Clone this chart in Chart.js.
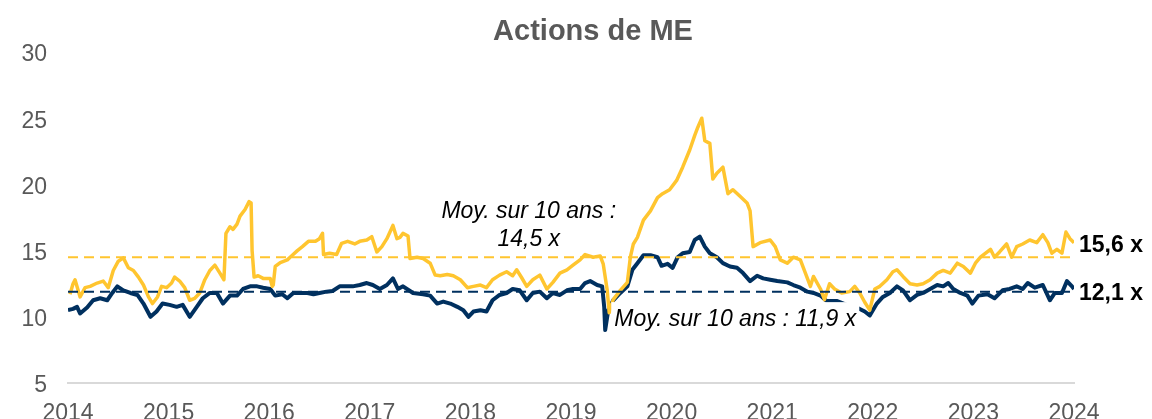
<!DOCTYPE html>
<html>
<head>
<meta charset="utf-8">
<script src="https://cdn.jsdelivr.net/npm/chart.js@4.4.1/dist/chart.umd.min.js"></script>
<style>
  html, body { margin: 0; padding: 0; background: #fff; }
  canvas { display: block; }
</style>
</head>
<body>
<canvas id="c" width="1152" height="419"></canvas>
<script>
// ---- Data (decimal years, P/E multiples) ----
const goldX = [2014.02,2014.05,2014.07,2014.12,2014.17,2014.22,2014.29,2014.35,2014.40,2014.45,2014.50,2014.55,2014.60,2014.65,2014.70,2014.75,2014.80,2014.84,2014.89,2014.93,2014.98,
2015.03,2015.06,2015.11,2015.16,2015.21,2015.26,2015.31,2015.36,2015.41,2015.46,2015.51,2015.55,2015.57,2015.61,2015.64,2015.68,2015.71,2015.76,2015.80,2015.82,2015.83,2015.85,2015.89,2015.94,
2016.01,2016.03,2016.04,2016.06,2016.11,2016.18,2016.23,2016.28,2016.33,2016.39,2016.46,2016.50,2016.53,2016.54,2016.60,2016.67,2016.72,2016.78,2016.85,2016.90,2016.97,
2017.02,2017.07,2017.12,2017.17,2017.23,2017.27,2017.30,2017.33,2017.38,2017.40,2017.47,2017.53,2017.60,2017.65,2017.70,2017.77,2017.83,2017.90,2017.97,
2018.03,2018.10,2018.16,2018.22,2018.29,2018.36,2018.42,2018.46,2018.51,2018.56,2018.62,2018.69,2018.76,2018.82,2018.89,2018.96,
2019.02,2019.09,2019.14,2019.22,2019.29,2019.32,2019.36,2019.38,2019.42,2019.49,2019.56,2019.59,2019.62,2019.66,2019.72,2019.79,2019.86,2019.91,2019.98,
2020.05,2020.11,2020.18,2020.23,2020.26,2020.30,2020.33,2020.38,2020.41,2020.45,2020.51,2020.56,2020.61,2020.68,2020.75,2020.78,2020.81,2020.88,2020.98,
2021.03,2021.08,2021.15,2021.21,2021.28,2021.33,2021.38,2021.41,2021.48,2021.52,2021.57,2021.62,2021.69,2021.77,2021.82,2021.87,2021.92,2021.97,
2022.02,2022.07,2022.14,2022.20,2022.24,2022.30,2022.37,2022.44,2022.50,2022.57,2022.64,2022.70,2022.77,2022.84,2022.90,2022.97,
2023.02,2023.07,2023.17,2023.21,2023.26,2023.33,2023.38,2023.43,2023.49,2023.56,2023.63,2023.69,2023.74,2023.78,2023.83,2023.88,2023.92,2023.96,2024.00];
const goldY = [11.7,12.5,12.8,11.5,12.2,12.3,12.55,12.7,12.2,13.5,14.2,14.45,13.7,13.5,13.0,12.4,11.5,11.0,11.5,12.3,12.2,
12.55,13.0,12.7,12.2,11.25,11.4,11.8,12.8,13.5,13.9,13.3,12.8,16.3,16.8,16.6,17.0,17.6,18.1,18.7,18.6,15.0,13.0,13.1,12.9,
12.9,12.3,12.4,13.8,14.1,14.3,14.65,15.0,15.3,15.7,15.7,15.9,16.3,14.7,14.8,14.7,15.55,15.7,15.5,15.7,15.8,
16.05,14.9,15.3,15.9,16.9,15.9,16.0,16.3,16.1,14.4,14.5,14.4,14.05,13.15,13.1,13.2,13.1,12.8,12.2,
12.3,12.4,12.2,12.8,13.15,13.4,13.1,13.55,12.95,12.3,12.8,13.15,12.1,12.6,13.3,13.55,
13.9,14.3,14.7,14.5,14.6,14.0,12.0,10.3,11.3,12.0,12.6,14.5,15.5,16.0,17.3,18.0,19.0,19.3,19.6,
20.3,21.3,22.6,23.7,24.3,25.0,23.3,23.1,20.4,20.85,21.3,19.3,19.6,19.1,18.6,18.0,15.3,15.6,15.8,
15.3,14.3,14.05,14.5,14.3,13.3,12.3,13.05,12.1,11.3,12.5,12.1,11.8,11.9,12.3,11.8,11.1,10.5,
12.1,12.3,12.8,13.4,13.55,13.05,12.5,12.4,12.5,12.8,13.3,13.5,13.3,14.05,13.8,13.3,
14.05,14.5,15.1,14.5,14.9,15.5,14.5,15.3,15.5,15.8,15.6,16.2,15.6,14.8,15.1,14.8,16.4,15.9,15.6];

const navyX = [2014.00,2014.05,2014.09,2014.12,2014.19,2014.25,2014.32,2014.39,2014.44,2014.49,2014.55,2014.62,2014.69,2014.75,2014.82,2014.88,2014.94,
2015.01,2015.08,2015.14,2015.21,2015.28,2015.34,2015.41,2015.48,2015.54,2015.61,2015.68,2015.74,2015.81,2015.88,2015.94,
2016.01,2016.06,2016.13,2016.18,2016.24,2016.31,2016.38,2016.44,2016.50,2016.57,2016.63,2016.70,2016.77,2016.83,2016.90,2016.97,
2017.03,2017.10,2017.17,2017.23,2017.28,2017.33,2017.43,2017.53,2017.60,2017.67,2017.73,2017.80,2017.87,2017.93,2017.98,
2018.03,2018.10,2018.16,2018.22,2018.29,2018.36,2018.42,2018.49,2018.56,2018.62,2018.69,2018.76,2018.82,2018.89,2018.96,
2019.02,2019.09,2019.14,2019.19,2019.26,2019.31,2019.33,2019.34,2019.37,2019.42,2019.49,2019.56,2019.61,2019.66,2019.72,2019.79,2019.86,2019.90,2019.96,
2020.01,2020.06,2020.11,2020.18,2020.23,2020.28,2020.33,2020.38,2020.45,2020.51,2020.58,2020.65,2020.71,2020.78,2020.85,2020.91,2020.98,
2021.05,2021.15,2021.21,2021.28,2021.35,2021.41,2021.48,2021.54,2021.64,2021.74,2021.84,2021.92,2021.97,
2022.04,2022.10,2022.17,2022.24,2022.30,2022.37,2022.44,2022.50,2022.57,2022.64,2022.70,2022.75,2022.80,2022.87,2022.94,2022.99,
2023.05,2023.14,2023.21,2023.29,2023.36,2023.43,2023.49,2023.54,2023.61,2023.69,2023.76,2023.81,2023.88,2023.93,2023.98,2024.00];
const navyY = [10.5,10.6,10.75,10.25,10.7,11.25,11.4,11.25,11.8,12.3,12.0,11.8,11.65,11.0,10.0,10.4,11.0,
10.9,10.75,10.9,10.0,10.75,11.4,11.8,11.8,11.0,11.6,11.6,12.1,12.3,12.3,12.2,
12.1,11.6,11.7,11.4,11.8,11.8,11.8,11.7,11.8,11.9,11.95,12.3,12.3,12.3,12.4,12.55,
12.4,12.1,12.4,12.9,12.1,12.3,11.8,11.7,11.6,11.0,11.15,11.0,10.75,10.5,10.0,
10.4,10.5,10.4,11.25,11.65,11.8,12.1,12.0,11.25,11.8,11.9,11.4,11.8,11.65,12.0,
12.1,12.1,12.55,12.7,12.4,12.3,10.75,9.0,10.5,11.25,11.8,12.3,13.55,14.05,14.65,14.65,14.5,13.85,14.0,
13.7,14.5,14.8,14.9,15.8,16.05,15.3,14.8,14.5,14.05,13.8,13.7,13.3,12.7,13.1,12.9,12.8,
12.7,12.6,12.4,12.2,11.9,11.8,11.6,11.2,11.2,10.9,10.7,10.4,10.1,
11.0,11.5,11.8,12.3,12.0,11.25,11.65,11.8,12.1,12.4,12.3,12.55,12.1,11.8,11.6,11.0,
11.6,11.7,11.4,12.0,12.1,12.3,12.1,12.55,12.2,12.4,11.25,11.8,11.8,12.7,12.3,12.1];

const goldAvg = 14.5;
const navyAvg = 11.9;
const goldLast = 15.6;
const navyLast = 12.1;
const xTickYears = [2014,2015,2016,2017,2018,2019,2020,2021,2022,2023,2024];
const yTicks = [5,10,15,20,25,30];
const titleText = 'Actions de ME';
const goldAvgText = ['Moy. sur 10 ans :', '14,5 x'];
const navyAvgText = 'Moy. sur 10 ans : 11,9 x';
const goldLastText = '15,6 x';
const navyLastText = '12,1 x';

const GOLD = '#FFC52F';
const NAVY = '#00305F';
const GREY = '#595959';
const FONT = "'Liberation Sans', Arial, sans-serif";

const annotPlugin = {
  id: 'annot',
  afterDatasetsDraw(chart) {
    const c = chart.ctx;
    const xs = chart.scales.x, ys = chart.scales.y;
    c.save();
    // title
    c.fillStyle = GREY;
    c.font = "bold 29px " + FONT;
    c.textAlign = 'center';
    c.textBaseline = 'middle';
    c.fillText(titleText, 593, 32);
    // gold avg label
    c.fillStyle = '#000';
    c.font = "italic 23px " + FONT;
    const gx = xs.getPixelForValue(2018.58);
    c.fillText(goldAvgText[0], gx, ys.getPixelForValue(17.95));
    c.fillText(goldAvgText[1], gx, ys.getPixelForValue(15.85));
    // navy avg label with white box
    const nx = xs.getPixelForValue(2019.43);
    const ny = ys.getPixelForValue(9.9);
    c.font = "italic 23px " + FONT;
    const w = c.measureText(navyAvgText).width;
    c.fillStyle = '#fff';
    c.fillRect(nx - 3, ny - 16, w + 6, 34);
    c.fillStyle = '#000';
    c.textAlign = 'left';
    c.fillText(navyAvgText, nx, ny + 1);
    // last values
    c.font = "bold 23px " + FONT;
    const rx = xs.getPixelForValue(2024) + 5;
    c.fillText(goldLastText, rx, ys.getPixelForValue(goldLast) + 3);
    c.fillText(navyLastText, rx, ys.getPixelForValue(navyLast) + 5);
    c.restore();
  }
};

new Chart(document.getElementById('c').getContext('2d'), {
  type: 'line',
  data: {
    datasets: [
      { data: [{x: xTickYears[0], y: goldAvg}, {x: xTickYears[xTickYears.length-1], y: goldAvg}],
        borderColor: GOLD, borderWidth: 2, borderDash: [10, 6], pointRadius: 0 },
      { data: [{x: xTickYears[0], y: navyAvg}, {x: xTickYears[xTickYears.length-1], y: navyAvg}],
        borderColor: NAVY, borderWidth: 2, borderDash: [10, 6], pointRadius: 0 },
      { data: goldX.map((x, i) => ({x, y: goldY[i]})),
        borderColor: GOLD, borderWidth: 3.5, pointRadius: 0, tension: 0, borderJoinStyle: 'round' },
      { data: navyX.map((x, i) => ({x, y: navyY[i]})),
        borderColor: NAVY, borderWidth: 4, pointRadius: 0, tension: 0, borderJoinStyle: 'round' }
    ]
  },
  options: {
    responsive: false,
    animation: false,
    events: [],
    layout: { padding: { left: 0, right: 78, top: 52, bottom: 0 } },
    scales: {
      x: {
        type: 'linear', min: 2014, max: 2024,
        afterFit(s) { s.height = 36; },
        afterBuildTicks(s) { s.ticks = xTickYears.map(v => ({value: v})); },
        ticks: { callback: v => String(v), color: GREY, font: { family: FONT, size: 23 }, padding: 17, maxRotation: 0, autoSkip: false },
        grid: { display: false, drawTicks: false },
        border: { display: true, color: '#D9D9D9', width: 2 }
      },
      y: {
        min: 5, max: 30,
        afterFit(s) { s.width = 68; },
        afterBuildTicks(s) { s.ticks = yTicks.map(v => ({value: v})); },
        ticks: { color: GREY, font: { family: FONT, size: 23 }, padding: 21, labelOffset: 3 },
        grid: { display: false, drawTicks: false },
        border: { display: false }
      }
    },
    plugins: { legend: { display: false }, tooltip: { enabled: false }, title: { display: false } }
  },
  plugins: [annotPlugin]
});
</script>
</body>
</html>
